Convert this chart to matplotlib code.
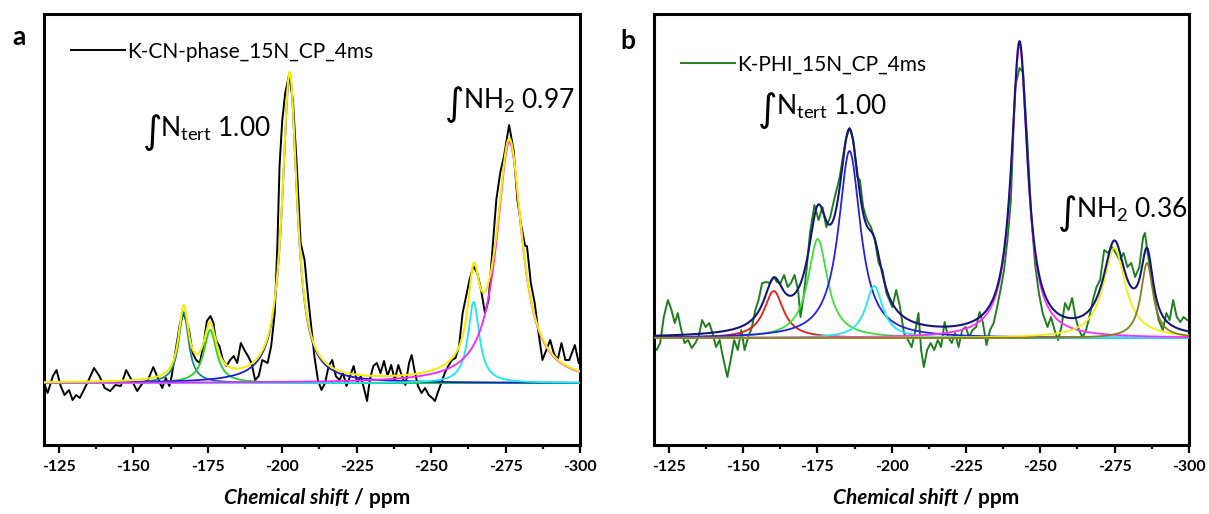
import matplotlib
matplotlib.use("Agg")
import matplotlib.pyplot as plt
import numpy as np

plt.rcParams['font.family'] = ['Lato', 'DejaVu Sans']
plt.rcParams['mathtext.fontset'] = 'dejavusans'

# ---- panel a : measured spectrum (ppm, intensity) ----
a_ppm = [-120.0, -121.2, -123.0, -124.2, -125.6, -126.9, -128.4, -129.6, -130.8, -132.0,
         -133.2, -135.0, -136.8, -138.6, -140.4, -142.2, -144.0, -145.8, -147.6, -149.4,
         -151.3, -153.1, -154.9, -156.7, -158.5, -159.7, -160.9, -162.1, -162.9, -163.9,
         -165.7, -166.9, -168.7, -169.9, -171.1, -172.3, -173.5, -174.7, -175.9, -176.9,
         -177.7, -178.9, -180.1, -181.3, -182.5, -183.7, -184.9, -186.1, -187.3, -188.5,
         -189.7, -190.9, -192.1, -193.3, -195.1, -196.3, -197.5, -198.4, -199.1, -200.0,
         -201.0, -202.3, -203.6, -204.9, -206.2, -207.5, -208.8, -210.0, -210.8, -212.0,
         -213.2, -214.4, -215.6, -216.8, -218.0, -219.2, -220.4, -221.6, -222.8, -224.0,
         -225.2, -226.4, -227.6, -228.5, -229.4, -230.6, -231.8, -233.0, -234.2, -235.4,
         -236.6, -237.8, -239.0, -240.2, -241.4, -242.6, -243.5, -244.4, -245.6, -246.8,
         -248.0, -249.2, -250.4, -251.3, -252.2, -253.4, -254.6, -255.8, -257.0, -258.2,
         -259.4, -260.6, -261.8, -262.9, -264.2, -265.5, -266.8, -268.1, -269.3, -270.6,
         -271.9, -273.2, -274.5, -276.2, -277.7, -279.0, -280.3, -281.6, -282.2, -283.5,
         -284.8, -286.1, -287.4, -288.7, -290.0, -291.2, -292.5, -293.8, -295.1, -296.4,
         -298.3, -299.6]
a_int = [0, -10, 7, 13, -3, -12, -7, -17, -12, -15,
         -8, 3, 15, 7, -5, -8, -2, -3, 13, 3,
         -8, 0, 3, 16, 3, -5, 5, -3, 7, 27,
         60, 70, 53, 30, 23, 20, 37, 62, 67, 60,
         43, 37, 23, 17, 23, 27, 20, 40, 33, 27,
         20, 3, 7, 23, 20, 37, 70, 140, 217, 262,
         290, 308, 283, 217, 140, 123, 83, 50, 27, 3,
         -7, 0, 17, 23, 7, 3, 10, -3, 7, 17,
         0, 7, -7, -18, 3, 17, 20, 10, 22, 7,
         18, 3, 18, 7, -2, 20, 28, 13, -3, -10,
         -5, -12, -15, -18, -10, 0, 10, 17, 23, 25,
         37, 70, 87, 103, 117, 110, 93, 70, 83, 133,
         183, 210, 227, 258, 233, 183, 157, 137, 137, 100,
         80, 50, 23, 33, 43, 30, 23, 40, 23, 23,
         38, 20]

# panel a : fitted Lorentzian components (centre ppm, height, half width)
a_centres = [-166.9, -175.8, -202.5, -264.3, -276.3]
a_heights = [71, 53, 309, 81, 241]
a_widths = [2.0, 2.6, 3.0, 2.3, 5.2]
a_colors = ['#138a8a', '#22d022', '#1c1cd8', '#19e6f0', '#ff20ff']

# ---- panel b : measured spectrum ----
b_ppm = [-120.0, -120.9, -122.1, -123.3, -124.7, -125.9, -127.0, -128.0, -129.2, -130.3,
         -131.5, -132.7, -133.9, -135.0, -136.2, -137.4, -138.6, -139.7, -140.9, -142.1,
         -143.2, -144.7, -145.8, -147.0, -148.2, -149.4, -150.5, -151.7, -152.9, -154.1,
         -155.2, -156.4, -157.9, -159.1, -160.3, -161.4, -162.6, -163.8, -165.0, -166.1,
         -167.3, -168.5, -169.3, -170.3, -171.4, -172.5, -174.0, -175.4, -176.7, -178.0,
         -179.3, -180.6, -182.5, -184.5, -185.8, -187.1, -188.4, -189.3, -190.4, -191.7,
         -193.0, -194.3, -195.6, -196.9, -198.2, -200.2, -201.5, -202.8, -204.1, -205.5,
         -206.7, -207.8, -209.0, -209.9, -210.8, -211.9, -213.1, -214.3, -215.5, -216.6,
         -217.8, -219.0, -220.2, -221.3, -222.5, -223.7, -224.9, -226.0, -227.2, -228.4,
         -229.6, -230.7, -231.9, -233.1, -234.3, -235.4, -236.6, -237.8, -239.0, -240.1,
         -241.5, -243.0, -244.2, -245.6, -246.9, -248.2, -249.5, -250.8, -252.4, -253.6,
         -254.8, -256.0, -257.1, -258.3, -259.5, -260.7, -261.8, -263.0, -264.2, -265.4,
         -266.5, -267.7, -268.9, -270.1, -271.5, -272.8, -274.1, -275.4, -276.7, -278.0,
         -279.3, -280.6, -281.9, -283.3, -284.6, -285.2, -286.1, -287.2, -288.5, -289.8,
         -291.2, -292.4, -293.5, -294.7, -295.9, -297.1, -298.2, -299.4]
b_int = [-9, -12, -5, 21, 38, 28, 15, 25, 8, -5,
         -2, -10, -5, 1, 18, 11, 15, 5, -9, -2,
         -19, -39, -22, -2, -12, 8, -12, 1, 10, 28,
         38, 55, 56, 55, 61, 56, 55, 63, 51, 55,
         63, 48, 21, 40, 70, 105, 133, 118, 131, 111,
         121, 138, 161, 198, 210, 198, 161, 158, 131, 118,
         111, 98, 75, 68, 45, 31, 48, 31, 5, -2,
         -9, 5, 25, -12, -29, -12, -5, -12, -2, -9,
         16, 1, -5, 5, -9, 8, 11, 1, 8, 11,
         26, 15, -7, 8, 15, 30, 48, 68, 100, 138,
         251, 270, 266, 198, 125, 75, 45, 25, 11, 21,
         8, -2, 11, 35, 28, 40, 21, 8, 1, 8,
         21, 38, 51, 58, 88, 85, 91, 85, 78, 85,
         71, 75, 61, 71, 101, 105, 85, 65, 38, 18,
         8, 25, 18, 38, 21, 16, 21, 18]

b_centres = [-160.3, -175.1, -185.8, -194.1, -243.0, -274.9, -285.9]
b_heights = [47, 99, 187, 52, 293, 90, 75]
b_widths = [4.0, 4.0, 4.5, 3.5, 3.3, 4.5, 2.5]
b_colors = ['#f01818', '#3ce03c', '#2222e0', '#22e8f5', '#ff30ff', '#f2ee10', '#8b7d1a']

xticks = [-125, -150, -175, -200, -225, -250, -275, -300]


def lorentz(x, c, h, w):
    return h / (1 + ((x - c) / w) ** 2)


fig = plt.figure(figsize=(12.09, 5.14), dpi=100)
ax_a = fig.add_axes([0.0364, 0.1342, 0.4433, 0.8385])
ax_b = fig.add_axes([0.5409, 0.1342, 0.4425, 0.8385])

x = np.linspace(-120, -300, 1500)


def style_axis(ax, ylim):
    ax.set_xlim(-120, -300)
    ax.set_ylim(*ylim)
    ax.set_yticks([])
    ax.set_xticks(xticks)
    ax.set_xticks([t - 12.5 for t in xticks[:-1]], minor=True)
    ax.set_xticklabels([str(t) for t in xticks], fontsize=11.5, fontweight='bold')
    ax.tick_params(axis='x', which='major', length=6, width=1.6, pad=5)
    ax.tick_params(axis='x', which='minor', length=3, width=1.6)
    for s in ax.spines.values():
        s.set_linewidth(2.2)
    t1 = ax.text(0.569, -0.122, "Chemical shift", transform=ax.transAxes,
                 ha='right', va='center', fontsize=15, fontweight='bold', style='italic')
    ax.annotate(" / ppm", xy=(1, 0), xycoords=t1, va='bottom', ha='left',
                fontsize=15, fontweight='bold')


def integral_label(ax, xpos, ypos, body):
    # tall integral sign followed by the label text on the same baseline
    ax.annotate("\u222b", xy=(xpos, ypos), xycoords='data', xytext=(-1, -4),
                textcoords='offset points', fontsize=27, family='DejaVu Sans',
                va='baseline')
    ax.annotate(body, xy=(xpos, ypos), xycoords='data', xytext=(12, 0),
                textcoords='offset points', fontsize=19, va='baseline')


# panel a
ax_a.plot(a_ppm, a_int, color='black', lw=1.4, label='K-CN-phase_15N_CP_4ms', zorder=2)
a_total = np.zeros_like(x)
for c, h, w, col in zip(a_centres, a_heights, a_widths, a_colors):
    y = lorentz(x, c, h, w)
    a_total += y
    ax_a.plot(x, y, color=col, lw=1.3, zorder=3)
ax_a.plot(x, a_total, color='#f5ec00', lw=1.5, zorder=4)
style_axis(ax_a, (-62, 369))
ax_a.legend(loc='upper left', frameon=False, fontsize=15, handlelength=2.6,
            handletextpad=0.1, bbox_to_anchor=(0.035, 0.955), borderaxespad=0)
integral_label(ax_a, -153.5, 246, r"$\mathregular{N_{tert}}$ 1.00")
integral_label(ax_a, -255.0, 274, r"$\mathregular{NH_2}$ 0.97")

# panel b
ax_b.plot(b_ppm, b_int, color='#1f7f1f', lw=1.4, label='K-PHI_15N_CP_4ms', zorder=2)
b_total = np.zeros_like(x)
for c, h, w, col in zip(b_centres, b_heights, b_widths, b_colors):
    y = lorentz(x, c, h, w)
    b_total += y
    ax_b.plot(x, y, color=col, lw=1.3, zorder=3)
ax_b.plot(x, b_total, color='#16167a', lw=1.5, zorder=4)
style_axis(ax_b, (-107, 324))
ax_b.legend(loc='upper left', frameon=False, fontsize=15, handlelength=2.6,
            handletextpad=0.1, bbox_to_anchor=(0.035, 0.925), borderaxespad=0)
integral_label(ax_b, -155.5, 223, r"$\mathregular{N_{tert}}$ 1.00")
integral_label(ax_b, -256.3, 120, r"$\mathregular{NH_2}$ 0.36")

fig.text(12 / 1209, 1 - 37 / 514, "a", fontsize=19, fontweight='bold', va='center')
fig.text(620 / 1209, 1 - 41 / 514, "b", fontsize=19, fontweight='bold', va='center')

fig.savefig("out.png", dpi=100)
